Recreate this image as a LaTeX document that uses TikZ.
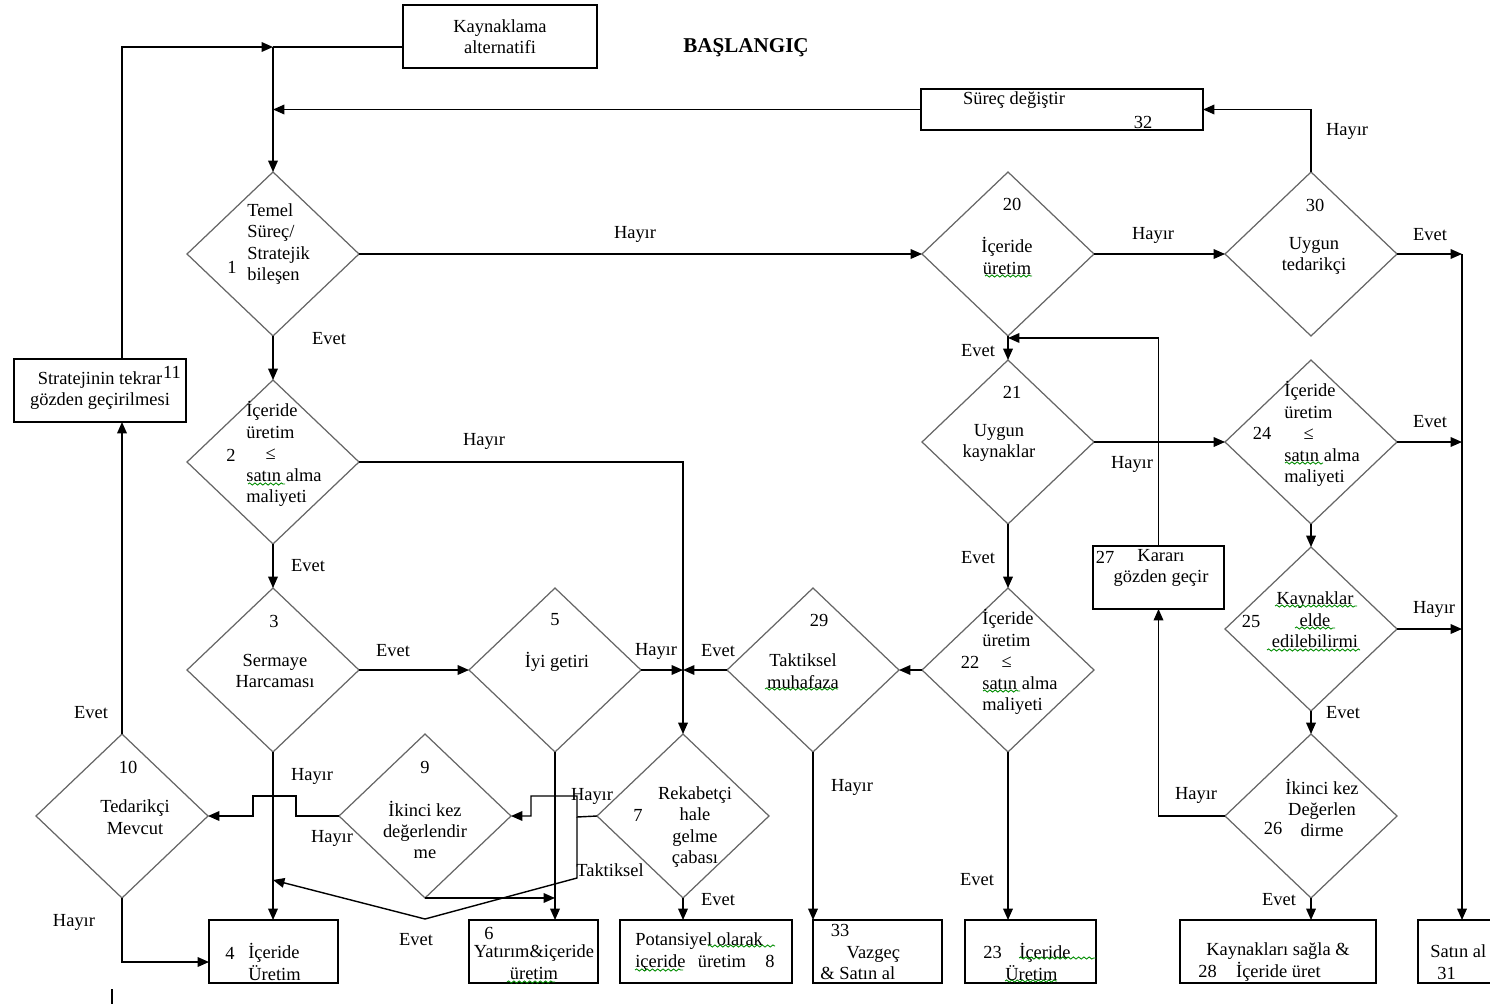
\documentclass[tikz,border=0pt]{standalone}
\usepackage{fontspec}
\setmainfont{Liberation Serif}
\usetikzlibrary{positioning}
\usetikzlibrary{shapes.geometric}
\usetikzlibrary{arrows.meta}
\usetikzlibrary{decorations.pathmorphing}

\begin{document}
\begin{tikzpicture}[x=0.02cm, y=-0.02cm,
        >={Triangle[length=6.5pt,width=5.5pt]},
        decis/.style={diamond, draw=black!60, line width=0.7pt, minimum width=3.44cm, minimum height=3.28cm, inner sep=0pt, outer sep=0pt},
        stepbox/.style={rectangle, draw=black, line width=0.9pt, minimum height=1.26cm, inner sep=0pt, outer sep=0pt},
        txt/.style={inner sep=0pt, align=center, font=\fontsize{10.5}{12.2}\selectfont},
        flow/.style={->, line width=0.8pt},
        spell/.style={draw=green!55!black, line width=0.5pt, decorate, decoration={snake, amplitude=0.6pt, segment length=3pt}}
    ]
        \useasboundingbox (0,0) rectangle (1490,1007);
        \clip (0,0) rectangle (1490,1007);
        % decisions
        \node[decis] (d1) at (273,254) {};
        \node[decis] (d2) at (273,462) {};
        \node[decis] (d3) at (273,670) {};
        \node[decis] (d5) at (555,670) {};
        \node[decis] (d7) at (683,816) {};
        \node[decis] (d9) at (425,816) {};
        \node[decis] (d10) at (122,816) {};
        \node[decis] (d20) at (1008,254) {};
        \node[decis] (d21) at (1008,442) {};
        \node[decis] (d22) at (1008,670) {};
        \node[decis] (d24) at (1311,442) {};
        \node[decis] (d25) at (1311,629) {};
        \node[decis] (d26) at (1311,816) {};
        \node[decis] (d29) at (813,670) {};
        \node[decis] (d30) at (1311,254) {};
        % boxes
        \node[stepbox, txt, minimum width=3.88cm] (ka) at (500,36.5) {Kaynaklama\\alternatifi};
        \node[stepbox, minimum width=5.64cm, minimum height=0.82cm] (b32) at (1062,109.5) {};
        \node[stepbox, txt, minimum width=3.44cm] (b11) at (100,390.5) {Stratejinin tekrar\\gözden geçirilmesi};
        \node[stepbox, minimum width=2.62cm] (b27) at (1158.5,577.5) {};
        \node[stepbox, minimum width=2.58cm] (b4) at (273.5,951.5) {};
        \node[stepbox, minimum width=2.58cm] (b6) at (533.5,951.5) {};
        \node[stepbox, minimum width=3.44cm] (b8) at (706,951.5) {};
        \node[stepbox, minimum width=2.58cm] (b33) at (877.5,951.5) {};
        \node[stepbox, minimum width=2.62cm] (b23) at (1030.5,951.5) {};
        \node[stepbox, minimum width=3.92cm] (b28) at (1278,951.5) {};
        \node[stepbox, minimum width=2.58cm] (b31) at (1482.5,951.5) {};
        \node[txt, font=\bfseries\fontsize{12}{14}\selectfont] (start) at (746,48) {BAŞLANGIÇ};
        % texts in the decisions
        \node[txt, anchor=west, align=left] (t1) at (247,244) {Temel\\Süreç/\\Stratejik\\bileşen};
        \node[txt] (n1) at (232,267) {1};
        \node[txt, anchor=west, align=left] (t2) at (246,454) {İçeride\\üretim\\\hspace*{11pt}≤\\satın alma\\maliyeti};
        \node[txt] (n2) at (231,455) {2};
        \node[txt] (n3) at (274,621) {3};
        \node[txt] (t3) at (275,671) {Sermaye\\Harcaması};
        \node[txt] (n5) at (555,620) {5};
        \node[txt] (t5) at (557,662) {İyi getiri};
        \node[txt] (n7) at (638,815) {7};
        \node[txt] (t7) at (695,827) {Rekabetçi\\hale\\gelme\\çabası};
        \node[txt] (n9) at (425,767) {9};
        \node[txt] (t9) at (425,830) {İkinci kez\\değerlendir\\me};
        \node[txt] (n10) at (128,767) {10};
        \node[txt] (t10) at (135,817) {Tedarikçi\\Mevcut};
        \node[txt] (n20) at (1012,204) {20};
        \node[txt] (t20) at (1007,256) {İçeride\\üretim};
        \node[txt] (n21) at (1012,392) {21};
        \node[txt] (t21) at (999,443) {Uygun\\kaynaklar};
        \node[txt, anchor=west, align=left] (t22) at (982,662) {İçeride\\üretim\\\hspace*{11pt}≤\\satın alma\\maliyeti};
        \node[txt] (n22) at (970,662) {22};
        \node[txt, anchor=west, align=left] (t24) at (1284,434) {İçeride\\üretim\\\hspace*{11pt}≤\\satın alma\\maliyeti};
        \node[txt] (n24) at (1262,433) {24};
        \node[txt] (n25) at (1251,621) {25};
        \node[txt] (t25) at (1315,620) {Kaynaklar\\elde\\edilebilirmi};
        \node[txt] (n26) at (1273,828) {26};
        \node[txt] (t26) at (1322,808) {İkinci kez\\Değerlen\\dirme};
        \node[txt] (n29) at (819,620) {29};
        \node[txt] (t29) at (803,671) {Taktiksel\\muhafaza};
        \node[txt] (n30) at (1315,205) {30};
        \node[txt] (t30) at (1314,256) {Uygun\\tedarikçi};
        % texts in the boxes
        \node[txt] (n11) at (172,372) {11};
        \node[txt] (t32) at (1014,100) {Süreç değiştir};
        \node[txt] (n32) at (1143,122) {32};
        \node[txt] (n27) at (1105,557) {27};
        \node[txt] (t27) at (1161,568) {Kararı\\gözden geçir};
        \node[txt] (n4) at (230,953) {4};
        \node[txt, anchor=west, align=left] (t4) at (248,962) {İçeride\\Üretim};
        \node[txt] (n6) at (489,933) {6};
        \node[txt] (t6) at (534,962) {Yatırım\&içeride\\üretim};
        \node[txt, anchor=west, align=left] (t8) at (635,952) {Potansiyel olarak\\içeride\hspace{7pt}üretim\hspace{11pt}8};
        \node[txt] (n33) at (840,930) {33};
        \node[txt, anchor=west, align=left] (t33) at (820,963) {\hspace*{15pt}Vazgeç\\\& Satın al};
        \node[txt, anchor=west, align=left] (t23) at (983,962) {23\hspace{10pt}İçeride\\\hspace*{12.5pt}Üretim};
        \node[txt, anchor=west, align=left] (t28) at (1198,962) {\hspace*{4.5pt}Kaynakları sağla \&\\28\hspace{11pt}İçeride üret};
        \node[txt, anchor=west, align=left] (t31) at (1430,962) {Satın al\\\hspace*{4pt}31};
        % spelling marks under some words
        \draw[spell] (248,484) -- (285,484);
        \draw[spell] (985,276) -- (1032,276);
        \draw[spell] (983,691) -- (1020,691);
        \draw[spell] (1285,463) -- (1323,463);
        \draw[spell] (1275,606) -- (1357,606);
        \draw[spell] (1295,628) -- (1335,628);
        \draw[spell] (1267,650) -- (1360,650);
        \draw[spell] (765,689) -- (838,689);
        \draw[spell] (507,982) -- (555,982);
        \draw[spell] (708,946) -- (775,946);
        \draw[spell] (635,970) -- (683,970);
        \draw[spell] (1019,958) -- (1096,958);
        \draw[spell] (1005,981) -- (1057,981);
        % connectors
        \coordinate (j1) at (273,47);
        \draw[line width=0.8pt] (ka.west |- j1) -- (j1);
        \draw[flow] (j1) -- (d1.north);
        \draw[flow] (d10.north) -- (d10.north |- b11.south);
        \draw[flow] (d10.north |- b11.north) |- (j1);
        \draw[flow] (b32.west) -- (b32.west -| j1);
        \draw[flow] (d1.east) -- (d20.west);
        \draw[flow] (d1.south) -- (d2.north);
        \draw[flow] (d2.east) -| (d7.north);
        \draw[flow] (d2.south) -- (d3.north);
        \draw[flow] (d3.east) -- (d5.west);
        \draw[flow] (d3.south) -- (d3.south |- b4.north);
        \draw[flow] (d5.east) -- (d5.east -| d7.north);
        \draw[flow] (d29.west) -- (d29.west -| d7.north);
        \draw[flow] (d5.south) -- (d5.south |- b6.north);
        \draw[flow] (d7.south) -- (d7.south |- b8.north);
        \coordinate (k7) at (577,817);
        \coordinate (v7) at (425,919);
        \draw[flow] (d7.west) -- (k7) |- (531,796) |- (d9.east);
        \draw[flow] (k7) -- (577,878) -- (v7) -- (273,880);
        \draw[flow] (d9.south) -- (d9.south -| d5.south);
        \draw[flow] (d9.west) -- (296,816) |- (253,796) |- (d10.east);
        \draw[flow] (d10.south) |- ([yshift=-0.21cm]b4.west);
        \draw[flow] (d29.south) -- (d29.south |- b33.north);
        \draw[flow] (d22.west) -- (d29.east);
        \draw[flow] (d22.south) -- (d22.south |- b23.north);
        \draw[flow] (d21.south) -- (d22.north);
        \draw[flow] (d20.south) -- (d21.north);
        \draw[flow] (d21.east) -- (d24.west);
        \draw[flow] (d20.east) -- (d30.west);
        \draw[flow] (b27.north) |- ([yshift=-0.04cm]d20.south);
        \draw[flow] (d26.west) -| (b27.south);
        \draw[flow] (d30.north) |- (b32.east);
        \coordinate (r31) at (1462,254);
        \draw[flow] (d30.east) -- (r31);
        \draw[flow] (r31) -- (r31 |- b31.north);
        \draw[flow] (d24.east) -- (d24.east -| r31);
        \draw[flow] (d25.east) -- (d25.east -| r31);
        \draw[flow] (d24.south) -- (d25.north);
        \draw[flow] (d25.south) -- (d26.north);
        \draw[flow] (d26.south) -- (d26.south |- b28.north);
        % Evet / Hayir labels
        \node[txt] (l1) at (635,234) {Hayır};
        \node[txt] (l2) at (329,339) {Evet};
        \node[txt] (l3) at (484,441) {Hayır};
        \node[txt] (l4) at (308,566) {Evet};
        \node[txt] (l5) at (393,651) {Evet};
        \node[txt] (l6) at (312,776) {Hayır};
        \node[txt] (l7) at (656,651) {Hayır};
        \node[txt] (l8) at (718,651) {Evet};
        \node[txt] (l9) at (332,838) {Hayır};
        \node[txt] (l10) at (592,796) {Hayır};
        \node[txt] (l11) at (610,870) {Taktiksel};
        \node[txt] (l12) at (416,940) {Evet};
        \node[txt] (l13) at (718,900) {Evet};
        \node[txt] (l14) at (91,713) {Evet};
        \node[txt] (l15) at (74,922) {Hayır};
        \node[txt] (l16) at (852,787) {Hayır};
        \node[txt] (l17) at (977,880) {Evet};
        \node[txt] (l18) at (978,558) {Evet};
        \node[txt] (l19) at (978,351) {Evet};
        \node[txt] (l20) at (1132,464) {Hayır};
        \node[txt] (l21) at (1153,235) {Hayır};
        \node[txt] (l22) at (1347,131) {Hayır};
        \node[txt] (l23) at (1430,235) {Evet};
        \node[txt] (l24) at (1430,422) {Evet};
        \node[txt] (l25) at (1434,609) {Hayır};
        \node[txt] (l26) at (1343,713) {Evet};
        \node[txt] (l27) at (1196,795) {Hayır};
        \node[txt] (l28) at (1279,900) {Evet};
        \draw[line width=1.6pt] (112,989) -- (112,1004);
\end{tikzpicture}
\end{document}
